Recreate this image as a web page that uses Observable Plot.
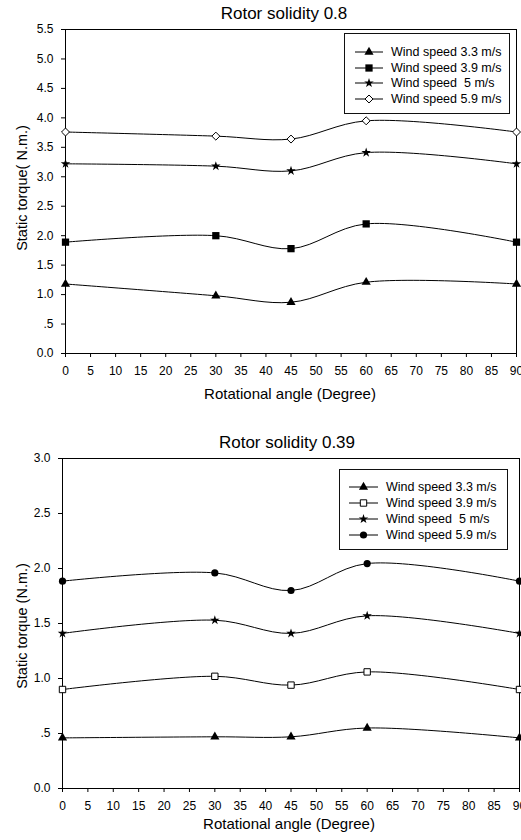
<!DOCTYPE html>
<html>
<head>
<meta charset="utf-8">
<script src="https://cdn.jsdelivr.net/npm/d3@7"></script>
<script src="https://cdn.jsdelivr.net/npm/@observablehq/plot@0.6"></script>
<style>
  html, body { margin: 0; padding: 0; background: white; }
  body { width: 521px; height: 840px; overflow: hidden; font-family: "Liberation Sans", Arial, sans-serif; color: black; }
  .chart { position: relative; width: 521px; height: 420px; }
  .chart svg { position: absolute; left: 0; top: 0; }
  .title { position: absolute; font-size: 17px; transform: translate(-50%, -50%); white-space: nowrap; }
  .xlabel { position: absolute; font-size: 15px; transform: translate(-50%, -50%); white-space: nowrap; }
  .ylabel { position: absolute; font-size: 14.5px; transform: translate(-50%, -50%) rotate(-90deg); white-space: pre; }
  .legend { position: absolute; border: 1px solid #111; background: white; box-sizing: border-box; }
  .legend .row { position: absolute; left: 0; height: 14px; transform: translateY(-50%); font-size: 12.5px; white-space: pre; }
  .legend .row svg { position: absolute; left: 0; top: 0; overflow: visible; }
  .legend .row span { position: absolute; top: 0; line-height: 14px; }
</style>
</head>
<body>
<div id="c1" class="chart"></div>
<div id="c2" class="chart"></div>
<script>
// ---- Data ----
const angles = [0, 30, 45, 60, 90];
const xTicks = [0, 5, 10, 15, 20, 25, 30, 35, 40, 45, 50, 55, 60, 65, 70, 75, 80, 85, 90];

// Rotor solidity 0.8
const top_ws33 = [1.18, 0.98, 0.87, 1.21, 1.18];
const top_ws39 = [1.89, 2.00, 1.78, 2.20, 1.89];
const top_ws50 = [3.22, 3.18, 3.10, 3.41, 3.22];
const top_ws59 = [3.76, 3.69, 3.64, 3.95, 3.76];
const topYTicks = [0, 0.5, 1, 1.5, 2, 2.5, 3, 3.5, 4, 4.5, 5, 5.5];

// Rotor solidity 0.39
const bot_ws33 = [0.46, 0.47, 0.47, 0.55, 0.46];
const bot_ws39 = [0.90, 1.02, 0.94, 1.06, 0.90];
const bot_ws50 = [1.41, 1.53, 1.41, 1.57, 1.41];
const bot_ws59 = [1.885, 1.96, 1.80, 2.045, 1.885];
const botYTicks = [0, 0.5, 1, 1.5, 2, 2.5, 3];

const seriesNames = ["Wind speed 3.3 m/s", "Wind speed 3.9 m/s", "Wind speed  5 m/s", "Wind speed 5.9 m/s"];

// ---- Drawing ----
const yFmt = d => d === 0.5 ? ".5" : d.toFixed(1);

function makeChart(el, cfg) {
  const marks = [
    Plot.frame({stroke: "black", strokeWidth: 1}),
    Plot.axisY({ticks: cfg.yTicks, tickFormat: yFmt, tickSize: 4, tickPadding: 8, label: null, stroke: "black"}),
    Plot.axisX({ticks: xTicks, tickFormat: d => String(d), tickSize: 4, tickPadding: 9, label: null, stroke: "black"})
  ];
  cfg.series.forEach(s => {
    const data = angles.map((a, i) => ({a, v: s.values[i]}));
    marks.push(Plot.line(data, {x: "a", y: "v", curve: "catmull-rom", stroke: "black", strokeWidth: 1}));
  });
  cfg.series.forEach(s => {
    const data = angles.map((a, i) => ({a, v: s.values[i]}));
    marks.push(Plot.dot(data, {x: "a", y: "v", symbol: s.symbol, r: s.r, fill: s.fill, stroke: s.stroke, strokeWidth: 1}));
  });
  const svg = Plot.plot({
    width: 521, height: 420,
    marginLeft: cfg.ml, marginRight: cfg.mr, marginTop: cfg.mt, marginBottom: cfg.mb,
    style: {fontFamily: '"Liberation Sans", Arial, sans-serif', fontSize: "12px", color: "black", background: "white", overflow: "visible"},
    x: {domain: [0, 90]},
    y: {domain: [0, cfg.yTicks[cfg.yTicks.length - 1]]},
    marks
  });
  el.appendChild(svg);

  const t = document.createElement("div");
  t.className = "title"; t.textContent = cfg.title;
  t.style.left = cfg.titlePos[0] + "px"; t.style.top = cfg.titlePos[1] + "px";
  el.appendChild(t);

  const xl = document.createElement("div");
  xl.className = "xlabel"; xl.textContent = "Rotational angle (Degree)";
  xl.style.left = cfg.xlPos[0] + "px"; xl.style.top = cfg.xlPos[1] + "px";
  el.appendChild(xl);

  const yl = document.createElement("div");
  yl.className = "ylabel"; yl.textContent = cfg.ylabel;
  yl.style.left = cfg.ylPos[0] + "px"; yl.style.top = cfg.ylPos[1] + "px";
  el.appendChild(yl);

  const lg = document.createElement("div");
  lg.className = "legend";
  const [lx, ly, lw, lh] = cfg.legend;
  lg.style.left = lx + "px"; lg.style.top = ly + "px"; lg.style.width = lw + "px"; lg.style.height = lh + "px";
  cfg.series.forEach((s, i) => {
    const row = document.createElement("div");
    row.className = "row";
    row.style.top = (cfg.legendRow0 + i * cfg.legendStep) + "px";
    row.style.width = lw + "px";
    const ns = "http://www.w3.org/2000/svg";
    const sv = document.createElementNS(ns, "svg");
    sv.setAttribute("width", 44); sv.setAttribute("height", 14);
    const ln = document.createElementNS(ns, "line");
    ln.setAttribute("x1", cfg.legLine[0]); ln.setAttribute("x2", cfg.legLine[1]);
    ln.setAttribute("y1", 7); ln.setAttribute("y2", 7);
    ln.setAttribute("stroke", "black"); ln.setAttribute("stroke-width", 1);
    sv.appendChild(ln);
    const symMap = {triangle: d3.symbolTriangle, square: d3.symbolSquare, star: d3.symbolStar, diamond2: d3.symbolDiamond2, circle: d3.symbolCircle};
    const p = document.createElementNS(ns, "path");
    p.setAttribute("d", d3.symbol(symMap[s.symbol], Math.PI * s.r * s.r)());
    p.setAttribute("transform", `translate(${(cfg.legLine[0] + cfg.legLine[1]) / 2},7)`);
    p.setAttribute("fill", s.fill); p.setAttribute("stroke", s.stroke);
    sv.appendChild(p);
    row.appendChild(sv);
    const sp = document.createElement("span");
    sp.style.left = cfg.legText + "px";
    sp.textContent = seriesNames[i];
    row.appendChild(sp);
    lg.appendChild(row);
  });
  el.appendChild(lg);
}

makeChart(document.getElementById("c1"), {
  title: "Rotor solidity 0.8",
  ylabel: "Static torque( N.m.)",
  yTicks: topYTicks,
  ml: 65, mr: 5, mt: 29, mb: 67,
  titlePos: [284, 14], xlPos: [290, 393], ylPos: [22, 188],
  legend: [344, 33, 166, 81], legendRow0: 18, legendStep: 15.5, legLine: [10, 38], legText: 46,
  series: [
    {values: top_ws33, symbol: "triangle", r: 3.4, fill: "black", stroke: "none"},
    {values: top_ws39, symbol: "square", r: 4.1, fill: "black", stroke: "none"},
    {values: top_ws50, symbol: "star", r: 3.0, fill: "black", stroke: "none"},
    {values: top_ws59, symbol: "diamond2", r: 3.6, fill: "white", stroke: "black"}
  ]
});

makeChart(document.getElementById("c2"), {
  title: "Rotor solidity 0.39",
  ylabel: "Static torque (N.m.)",
  yTicks: botYTicks,
  ml: 62, mr: 2, mt: 38, mb: 52,
  titlePos: [287, 23], xlPos: [289, 403], ylPos: [22, 206],
  legend: [339, 49, 169, 81], legendRow0: 16.5, legendStep: 16.2, legLine: [9, 38], legText: 46,
  series: [
    {values: bot_ws33, symbol: "triangle", r: 3.4, fill: "black", stroke: "none"},
    {values: bot_ws39, symbol: "square", r: 3.6, fill: "white", stroke: "black"},
    {values: bot_ws50, symbol: "star", r: 3.0, fill: "black", stroke: "none"},
    {values: bot_ws59, symbol: "circle", r: 3.6, fill: "black", stroke: "none"}
  ]
});
</script>
</body>
</html>
